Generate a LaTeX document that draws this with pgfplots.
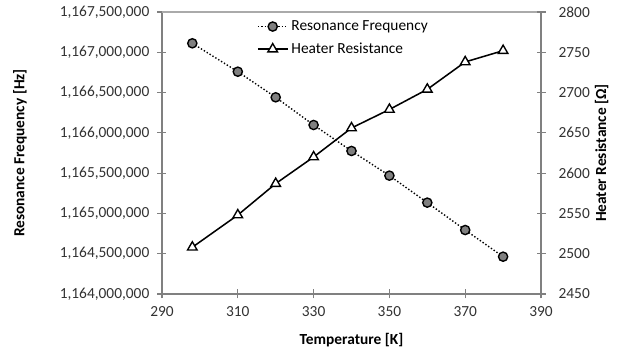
\documentclass[border=0pt]{standalone}
\usepackage{pgfplots}
\pgfplotsset{compat=1.18}
\usepackage{fontspec}
\setmainfont{Carlito}
\definecolor{axgray}{RGB}{128,128,128}
\definecolor{topgray}{RGB}{170,170,170}
\definecolor{ptgray}{RGB}{128,128,128}
\definecolor{txt}{RGB}{50,50,50}

\begin{document}
\begin{tikzpicture}
\pgfplotsset{
  every axis/.append style={
    scale only axis, width=246.35pt, height=183.3pt,
    xmin=290, xmax=390, xtick={290,310,...,390},
    scaled x ticks=false, scaled y ticks=false,
    tick align=center, major tick length=5.85pt,
    tick style={axgray, line width=0.8pt},
    axis line style={axgray, line width=0.8pt},
    font=\fontsize{10}{12}\selectfont,
    /pgf/number format/assume math mode=true,
    /pgf/number format/1000 sep={},
    tick label style={text=txt, font=\fontsize{10}{12}\selectfont},
  },
  freqstyle/.style={black, line width=0.9pt, dash pattern=on 0.9pt off 1.3pt,
    mark=*, mark size=3pt, mark options={solid, fill=ptgray, draw=black, line width=0.9pt}},
  resstyle/.style={black, line width=1pt,
    mark=triangle*, mark size=3.6pt, mark options={solid, fill=white, draw=black, line width=0.9pt}},
}
\begin{axis}[
  name=ax1,
  axis x line*=bottom, axis y line*=left,
  ymin=1164000000, ymax=1167500000,
  ytick={1164000000,1164500000,1165000000,1165500000,1166000000,1166500000,1167000000,1167500000},
  yticklabels={{1,164,000,000},{1,164,500,000},{1,165,000,000},{1,165,500,000},{1,166,000,000},{1,166,500,000},{1,167,000,000},{1,167,500,000}},
  yticklabel style={xshift=-1.8pt},
  xticklabel style={yshift=-1.5pt},
  xlabel={Temperature [K]},
  ylabel={Resonance Frequency [Hz]},
  every axis x label/.style={at={(axis description cs:0.5,-0.163)},anchor=center,font=\fontsize{10}{12}\selectfont\bfseries},
  every axis y label/.style={at={(axis description cs:-0.3747,0.5)},rotate=90,anchor=center,font=\fontsize{10}{12}\selectfont\bfseries},
]
\draw[topgray, line width=0.8pt] (rel axis cs:0,1) -- (rel axis cs:1,1);
\addplot[freqstyle] coordinates {
  (298,1167111500) (310,1166759000) (320,1166441000) (330,1166097500)
  (340,1165775000) (350,1165469000) (360,1165134000) (370,1164794000)
  (380,1164463000)
};
\end{axis}
\begin{axis}[
  axis x line=none, axis y line*=right,
  ymin=2450, ymax=2800, ytick={2450,2500,...,2800},
  yticklabel style={xshift=5pt},
  ylabel={Heater Resistance [Ω]},
  every axis y label/.style={at={(axis description cs:1.16,0.5)},rotate=90,anchor=center,font=\fontsize{10}{12}\selectfont\bfseries},
  legend style={at={(axis description cs:0.25,0.982)}, anchor=north west,
    draw=none, fill=none, font=\fontsize{10}{12}\selectfont, row sep=2.5pt, inner sep=0pt},
  legend cell align=left,
  legend image code/.code={\draw[mark repeat=2,mark phase=2] plot coordinates {(0cm,0cm)(0.34cm,0cm)(0.68cm,0cm)};},
]
\addlegendimage{freqstyle}
\addlegendentry{Resonance Frequency}
\addplot[resstyle] coordinates {
  (298,2508) (310,2548) (320,2587) (330,2620) (340,2656)
  (350,2679) (360,2704) (370,2738) (380,2752)
};
\addlegendentry{Heater Resistance}
\end{axis}
\pgfresetboundingbox
\path[use as bounding box] ([xshift=-105.3pt,yshift=-37.7pt]ax1.south west) rectangle ([xshift=49.4pt,yshift=7.8pt]ax1.north east);
\end{tikzpicture}
\end{document}
